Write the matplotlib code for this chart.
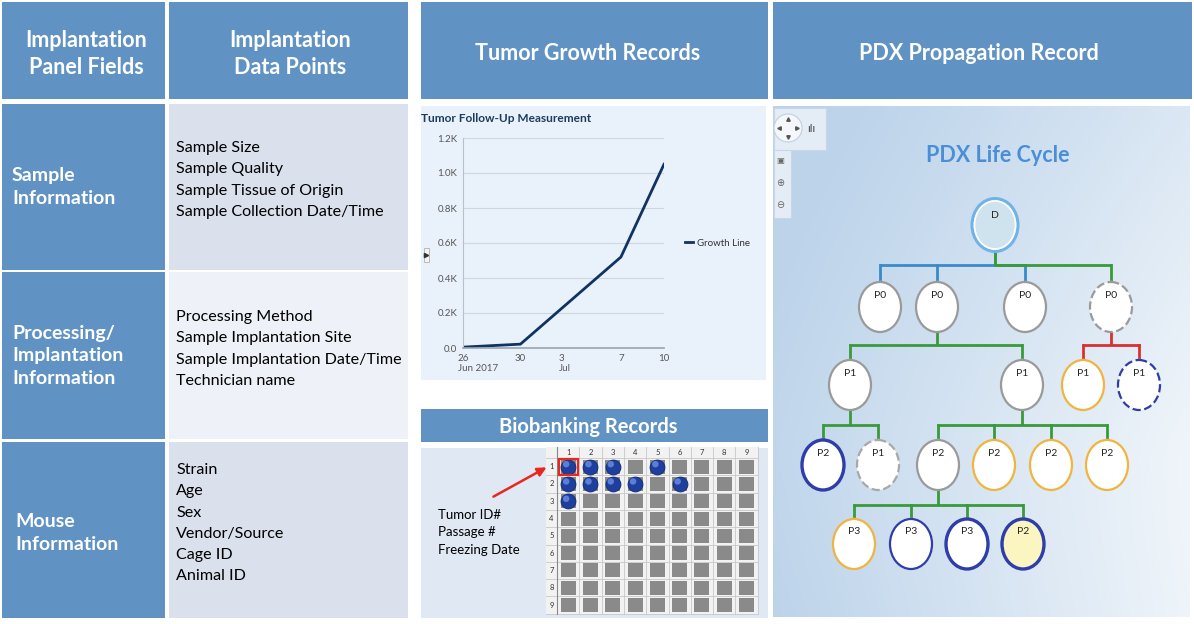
import numpy as np
import matplotlib
matplotlib.use("Agg")
import matplotlib.pyplot as plt
import matplotlib.dates as mdates
import matplotlib.transforms as mtransforms
from matplotlib.patches import Rectangle, Ellipse, Circle, FancyArrowPatch
import datetime as dt

# ---------------- data ----------------
panel_fields = ["Sample\nInformation", "Processing/\nImplantation\nInformation", "Mouse\nInformation"]
data_points = [
    ["Sample Size", "Sample Quality", "Sample Tissue of Origin", "Sample Collection Date/Time"],
    ["Processing Method", "Sample Implantation Site", "Sample Implantation Date/Time", "Technician name"],
    ["Strain", "Age", "Sex", "Vendor/Source", "Cage ID", "Animal ID"],
]
headers = ["Implantation\nPanel Fields", "Implantation\nData Points", "Tumor Growth Records", "PDX Propagation Record"]

growth_dates = [dt.date(2017, 6, 26), dt.date(2017, 6, 30), dt.date(2017, 7, 7), dt.date(2017, 7, 10)]
growth_values = [5, 22, 520, 1050]
growth_ticks = [dt.date(2017, 6, 26), dt.date(2017, 6, 30), dt.date(2017, 7, 3), dt.date(2017, 7, 7), dt.date(2017, 7, 10)]
growth_tick_labels = ["26\nJun 2017", "30", "3\nJul", "7", "10"]
y_ticks = [0, 200, 400, 600, 800, 1000, 1200]
y_tick_labels = ["0.0", "0.2K", "0.4K", "0.6K", "0.8K", "1.0K", "1.2K"]

box_cols = [str(i) for i in range(1, 10)]
box_rows = [str(i) for i in range(1, 10)]
# occupied positions (row, col), 1-based
occupied = [(1, 1), (1, 2), (1, 3), (1, 5), (2, 1), (2, 2), (2, 3), (2, 4), (2, 6), (3, 1)]
biobank_label = ["Tumor ID#", "Passage #", "Freezing Date"]

# tree nodes: name, label, x, y, edge color, style, fill, linewidth
tree_nodes = [
    ("D", "D", 995, 225, "#6fb3e8", "solid", "#cfe3ef", 2.2),
    ("P0a", "P0", 880, 307, "#9a9a9a", "solid", "white", 1.6),
    ("P0b", "P0", 937, 307, "#9a9a9a", "solid", "white", 1.6),
    ("P0c", "P0", 1025, 307, "#9a9a9a", "solid", "white", 1.6),
    ("P0d", "P0", 1111, 307, "#9a9a9a", "dashed", "white", 1.6),
    ("P1a", "P1", 850, 385, "#9a9a9a", "solid", "white", 1.6),
    ("P1b", "P1", 1022, 385, "#9a9a9a", "solid", "white", 1.6),
    ("P1c", "P1", 1083, 385, "#f0b440", "solid", "white", 1.6),
    ("P1d", "P1", 1139, 385, "#2e3da8", "dashed", "white", 1.6),
    ("P2a", "P2", 823, 465, "#2e3da8", "solid", "white", 2.4),
    ("P1e", "P1", 878, 465, "#a8a8a8", "dashed", "white", 1.6),
    ("P2b", "P2", 938, 465, "#9a9a9a", "solid", "white", 1.6),
    ("P2c", "P2", 994, 465, "#f0b440", "solid", "white", 1.6),
    ("P2d", "P2", 1051, 465, "#f0b440", "solid", "white", 1.6),
    ("P2e", "P2", 1107, 465, "#f0b440", "solid", "white", 1.6),
    ("P3a", "P3", 854, 544, "#f0b440", "solid", "white", 1.6),
    ("P3b", "P3", 911, 544, "#2e3da8", "solid", "white", 1.6),
    ("P3c", "P3", 967, 544, "#2e3da8", "solid", "white", 2.4),
    ("P2f", "P2", 1023, 544, "#2e3da8", "solid", "#fbf5c2", 2.4),
]
# connectors: parent, children, bar y, colour
tree_links = [
    ("D", ["P0a", "P0b", "P0c"], 265, "#3a8ac8"),
    ("D", ["P0d"], 265, "#3a9a3a"),
    ("P0b", ["P1a", "P1b"], 345, "#3a9a3a"),
    ("P0d", ["P1c", "P1d"], 345, "#d93030"),
    ("P1a", ["P2a", "P1e"], 425, "#3a9a3a"),
    ("P1b", ["P2b", "P2c", "P2d", "P2e"], 425, "#3a9a3a"),
    ("P2b", ["P3a", "P3b", "P3c", "P2f"], 505, "#3a9a3a"),
]

# ---------------- figure ----------------
W, H = 1194, 624
fig = plt.figure(figsize=(W / 100, H / 100), dpi=100)
fig.patch.set_facecolor("white")
ax = fig.add_axes([0, 0, 1, 1])
ax.set_xlim(0, W)
ax.set_ylim(H, 0)
ax.axis("off")

FONT = ["Lato", "DejaVu Sans"]
BLUE = "#6093c4"

def rect(x0, y0, x1, y1, color, z=1, **kw):
    ax.add_patch(Rectangle((x0, y0), x1 - x0, y1 - y0, facecolor=color, edgecolor="none", zorder=z, **kw))

# headers
rect(2, 2, 165, 99, BLUE)
rect(169, 2, 408, 99, BLUE)
rect(421, 2, 768, 99, BLUE)
rect(773, 2, 1192, 99, BLUE)
ax.text(86, 54, headers[0], ha="center", va="center", color="white", fontsize=15.5, fontweight="bold",
        family=FONT, linespacing=1.38)
ax.text(290, 54, headers[1], ha="center", va="center", color="white", fontsize=15.5, fontweight="bold",
        family=FONT, linespacing=1.38)
ax.text(588, 54, headers[2], ha="center", va="center", color="white", fontsize=15.5, fontweight="bold", family=FONT)
ax.text(979, 54, headers[3], ha="center", va="center", color="white", fontsize=15.5, fontweight="bold", family=FONT)

# table rows
row_y = [(104, 270), (272, 439), (442, 618)]
row_fill = ["#dae0ec", "#eef1f7", "#dae0ec"]
label_pos = [(12, 187), (12, 356), (15, 533)]
list_start = [148, 317, 470]
for i in range(3):
    y0, y1 = row_y[i]
    rect(2, y0, 165, y1, BLUE)
    rect(169, y0, 408, y1, row_fill[i])
    ax.text(label_pos[i][0], label_pos[i][1], panel_fields[i], ha="left", va="center", color="white",
            fontsize=14, fontweight="bold", family=FONT, linespacing=1.38)
    for j, item in enumerate(data_points[i]):
        ax.text(176, list_start[i] + j * 21.3, item, ha="left", va="center", color="black",
                fontsize=11.6, family=FONT)

# ---------------- tumour growth chart ----------------
rect(421, 106, 766, 380, "#e9f2fb")
ax.text(421, 118, "Tumor Follow-Up Measurement", ha="left", va="center", color="#1f3a5f",
        fontsize=8.6, fontweight="bold", family=FONT)
ax.add_patch(Rectangle((424, 248), 5, 14, facecolor="#f4f4f4", edgecolor="#b0b0b0", lw=0.6, zorder=3))
ax.plot([425.5], [255], marker=">", color="#333333", markersize=3, zorder=4)

cax = fig.add_axes([463 / W, 1 - 348 / H, 201 / W, 210 / H])
cax.set_facecolor("none")
dnum = mdates.date2num(growth_dates)
cax.plot(dnum, growth_values, color="#0f3463", lw=2, label="Growth Line", solid_joinstyle="miter")
cax.set_xlim(mdates.date2num(dt.date(2017, 6, 26)), mdates.date2num(dt.date(2017, 7, 10)))
cax.set_ylim(0, 1200)
cax.set_yticks(y_ticks)
cax.set_yticklabels(y_tick_labels)
cax.set_xticks(mdates.date2num(growth_ticks))
cax.set_xticklabels(growth_tick_labels)
cax.tick_params(axis="both", length=0, labelsize=7, colors="#555555", pad=4)
shift = mtransforms.ScaledTranslation(-5 / 100, 0, fig.dpi_scale_trans)
for lab in cax.get_xticklabels():
    lab.set_family(FONT)
    if "\n" in lab.get_text():
        lab.set_horizontalalignment("left")
        lab.set_multialignment("left")
        lab.set_transform(lab.get_transform() + shift)
    else:
        lab.set_horizontalalignment("center")
for lab in cax.get_yticklabels():
    lab.set_family(FONT)
cax.grid(axis="y", color="#cfd6de", lw=0.8)
cax.set_axisbelow(True)
for s in ["top", "right"]:
    cax.spines[s].set_visible(False)
cax.spines["left"].set_color("#b8c0c8")
cax.spines["bottom"].set_color("#9aa4ae")
cax.spines["bottom"].set_linewidth(1.2)
leg = cax.legend(loc="center left", bbox_to_anchor=(1.06, 0.5), frameon=False,
                 handlelength=0.8, handletextpad=0.5, prop={"family": FONT, "size": 7})
for t in leg.get_texts():
    t.set_color("#333333")

# ---------------- biobanking ----------------
rect(421, 409, 768, 442, BLUE)
ax.text(588, 427, "Biobanking Records", ha="center", va="center", color="white", fontsize=14.5,
        fontweight="bold", family=FONT)
rect(421, 448, 768, 618, "#dfe8f3")
gx0, gy0 = 546, 447
cw, rh = 22.3, 17.3
hx = gx0 + 11
hy = gy0 + 11
rect(gx0, gy0, gx0 + 11 + cw * 9, gy0 + 11 + rh * 9, "#f2f2f2", z=2)
for k in range(10):
    ax.plot([hx + k * cw] * 2, [gy0, hy + rh * 9], color="#c8c8c8", lw=0.6, zorder=3)
    ax.plot([gx0, hx + cw * 9], [hy + k * rh] * 2, color="#c8c8c8", lw=0.6, zorder=3)
ax.plot([hx, hx], [gy0, hy + rh * 9], color="#888888", lw=0.8, zorder=3)
for c, lab in enumerate(box_cols):
    ax.text(hx + (c + 0.5) * cw, gy0 + 5.5, lab, ha="center", va="center", fontsize=5.5, color="#333333", family=FONT, zorder=4)
for r, lab in enumerate(box_rows):
    ax.text(gx0 + 5.5, hy + (r + 0.5) * rh, lab, ha="center", va="center", fontsize=5.5, color="#333333", family=FONT, zorder=4)
    for c in range(9):
        cx = hx + (c + 0.5) * cw
        cy = hy + (r + 0.5) * rh
        rect(cx - 7.5, cy - 7, cx + 7.5, cy + 7, "#8a8a8a", z=4)
occ_x = [hx + (c - 0.5) * cw for (r, c) in occupied]
occ_y = [hy + (r - 0.5) * rh for (r, c) in occupied]
ax.scatter(occ_x, occ_y, s=115, color="#1f3f9e", edgecolor="#132a70", lw=0.6, zorder=5)
ax.scatter([x - 2 for x in occ_x], [y - 2.5 for y in occ_y], s=22, color="#5b7fd6", edgecolor="none", zorder=6)
ax.add_patch(Rectangle((hx + 1.5, hy + 0.8), cw - 3, rh - 1.6, facecolor="none", edgecolor="#e8271e", lw=1.6, zorder=7))
ax.add_patch(FancyArrowPatch((491, 498), (549, 466), arrowstyle="-|>", mutation_scale=13,
                             color="#e8271e", lw=1.8, zorder=8))
for i, t in enumerate(biobank_label):
    ax.text(438, 515 + i * 17.3, t, ha="left", va="center", fontsize=9.5, color="black", family=FONT)

# ---------------- PDX propagation ----------------
px0, py0, px1, py1 = 773, 106, 1190, 617
gxs = np.linspace(0, 1, 200)
gys = np.linspace(0, 1, 200)
GX, GY = np.meshgrid(gxs, gys)
t = np.clip(0.08 + 0.85 * GX - 0.35 * np.abs(GY - 0.68) ** 1.2 - 0.2 * (1 - GY) * GX, 0, 1)
c0 = np.array([0.74, 0.83, 0.92])
c1 = np.array([0.97, 0.98, 0.99])
img = c0[None, None, :] * (1 - t[..., None]) + c1[None, None, :] * t[..., None]
ax.imshow(img, extent=(px0, px1, py1, py0), origin="upper", aspect="auto", zorder=1, interpolation="bilinear")
ax.set_xlim(0, W)
ax.set_ylim(H, 0)

# navigation widget
ax.add_patch(Rectangle((774, 108), 52, 42, facecolor="#e4edf6", edgecolor="#c8d6e6", lw=0.8, zorder=2))
ax.add_patch(Rectangle((774, 150), 17, 68, facecolor="#e4edf6", edgecolor="#c8d6e6", lw=0.8, zorder=2))
ax.add_patch(Circle((788, 128), 14, facecolor="#f4f7fb", edgecolor="#c4cfdc", lw=0.8, zorder=3))
for dx, dy, m in [(0, -9, "^"), (0, 9, "v"), (-9, 0, "<"), (9, 0, ">")]:
    ax.plot([788 + dx], [128 + dy], marker=m, markersize=2.5, color="#555555", zorder=4)
ax.text(811, 129, "ılı", ha="center", va="center", fontsize=7, color="#333333", zorder=4)
ax.text(780, 161, "▣", ha="center", va="center", fontsize=6, color="#666666", zorder=4)
ax.text(780, 183, "⊕", ha="center", va="center", fontsize=7, color="#666666", zorder=4)
ax.text(780, 205, "⊖", ha="center", va="center", fontsize=7, color="#666666", zorder=4)

ax.text(998, 155, "PDX Life Cycle", ha="center", va="center", fontsize=15.5, fontweight="bold",
        color="#4a8fd6", family=FONT, zorder=4)

node_xy = {n[0]: (n[2], n[3]) for n in tree_nodes}
NW, NH = 42, 50
for parent, kids, by, col in tree_links:
    px, py = node_xy[parent]
    ax.plot([px, px], [py + NH / 2, by], color=col, lw=2, zorder=3, solid_capstyle="butt")
    xs = [node_xy[k][0] for k in kids] + [px]
    ax.plot([min(xs), max(xs)], [by, by], color=col, lw=2, zorder=3, solid_capstyle="round")
    for k in kids:
        kx, ky = node_xy[k]
        ax.plot([kx, kx], [by, ky - NH / 2 + 2], color=col, lw=2, zorder=3)
        ax.plot([kx], [ky - NH / 2 + 1], marker="^", markersize=3.5, color="#c8c8c8", zorder=4)

for name, lab, x, y, ec, ls, fc, lw in tree_nodes:
    w, h = (46, 53) if name == "D" else (NW, NH)
    ax.add_patch(Ellipse((x, y), w, h, facecolor=fc, edgecolor=ec, lw=lw, linestyle=ls, zorder=5))
    if name == "D":
        ax.add_patch(Ellipse((x, y), w - 5, h - 5, facecolor="none", edgecolor="white", lw=1.2, zorder=6))
    ax.text(x, y - (h / 2) + 13 if name != "D" else y - 9, lab, ha="center", va="center", fontsize=7.5,
            color="#222222", family=FONT, zorder=7)

fig.savefig("out.png", dpi=100)
